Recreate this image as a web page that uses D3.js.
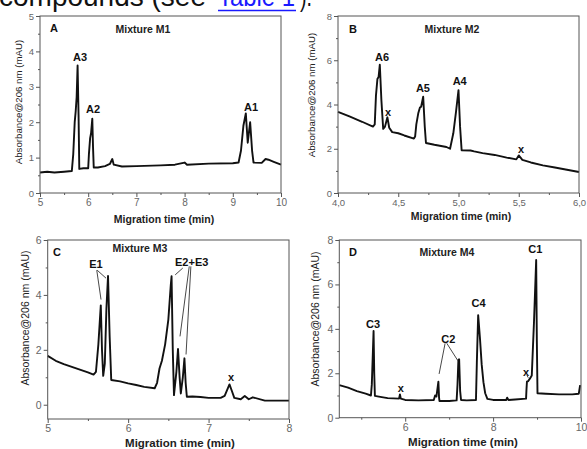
<!DOCTYPE html>
<html>
<head>
<meta charset="utf-8">
<script src="https://cdn.jsdelivr.net/npm/d3@7"></script>
<style>
  html,body{margin:0;padding:0;background:#fff;}
  svg{display:block;font-family:"Liberation Sans",Arial,sans-serif;}
</style>
</head>
<body>
<svg id="fig" width="587" height="449"></svg>
<script>
// traces: [time (min), absorbance (mAU)]
const m1Trace = [[5.0,0.58],[5.15,0.6],[5.3,0.58],[5.5,0.6],[5.66,0.62],[5.69,1.1],[5.72,2.0],[5.74,2.3],[5.76,2.7],[5.78,3.6],[5.80,2.2],[5.815,0.68],[5.9,0.7],[6.0,0.7],[6.015,1.1],[6.04,1.55],[6.06,1.7],[6.085,2.1],[6.10,1.3],[6.115,0.72],[6.2,0.72],[6.35,0.76],[6.45,0.82],[6.5,0.96],[6.53,0.8],[6.7,0.75],[7.0,0.76],[7.5,0.78],[7.8,0.8],[8.0,0.86],[8.05,0.8],[8.5,0.83],[9.0,0.84],[9.12,0.86],[9.17,1.2],[9.22,1.9],[9.27,2.25],[9.31,1.42],[9.36,2.0],[9.40,1.2],[9.43,0.86],[9.6,0.85],[9.68,0.96],[9.74,0.94],[9.85,0.88],[10.0,0.8]];
const m2Trace = [[4.0,3.67],[4.1,3.45],[4.2,3.22],[4.29,3.0],[4.305,3.1],[4.315,4.4],[4.327,5.15],[4.337,5.25],[4.347,5.8],[4.36,4.2],[4.375,2.9],[4.39,3.0],[4.41,3.42],[4.425,2.95],[4.45,2.75],[4.5,2.7],[4.55,2.6],[4.63,2.46],[4.64,2.55],[4.65,3.1],[4.666,3.6],[4.68,3.86],[4.69,3.9],[4.707,4.35],[4.72,3.0],[4.73,2.26],[4.8,2.18],[4.9,2.08],[4.93,2.0],[4.957,2.7],[4.98,3.7],[5.0,4.65],[5.013,3.0],[5.026,1.93],[5.1,1.92],[5.13,1.88],[5.2,1.8],[5.3,1.72],[5.4,1.6],[5.48,1.52],[5.5,1.7],[5.53,1.5],[5.6,1.38],[5.7,1.25],[5.8,1.15],[5.9,1.05],[6.0,0.95]];
const m3Trace = [[5.0,1.78],[5.1,1.6],[5.2,1.48],[5.3,1.38],[5.4,1.28],[5.5,1.18],[5.57,1.1],[5.6,1.2],[5.63,2.2],[5.66,3.62],[5.675,2.0],[5.69,1.05],[5.71,1.5],[5.73,3.5],[5.75,4.69],[5.77,2.5],[5.79,0.9],[5.9,0.85],[6.0,0.78],[6.1,0.72],[6.2,0.65],[6.33,0.6],[6.36,0.8],[6.39,1.32],[6.42,1.6],[6.46,2.2],[6.5,3.1],[6.53,4.35],[6.54,4.68],[6.555,2.0],[6.57,0.35],[6.6,1.2],[6.62,2.03],[6.64,1.0],[6.655,0.41],[6.68,1.0],[6.70,1.69],[6.715,0.8],[6.73,0.29],[6.8,0.3],[6.9,0.28],[7.0,0.25],[7.15,0.25],[7.2,0.32],[7.26,0.74],[7.29,0.5],[7.32,0.25],[7.4,0.2],[7.45,0.32],[7.5,0.2],[7.55,0.27],[7.7,0.15],[8.0,0.15]];
const m4Trace = [[4.5,1.47],[4.7,1.35],[4.9,1.2],[5.1,1.08],[5.22,1.0],[5.24,1.5],[5.265,3.0],[5.28,3.9],[5.295,2.0],[5.31,0.98],[5.4,0.95],[5.6,0.88],[5.86,0.86],[5.88,1.05],[5.9,0.86],[6.0,0.8],[6.3,0.78],[6.65,0.8],[6.68,1.0],[6.71,0.95],[6.755,1.62],[6.77,0.9],[6.78,0.75],[7.0,0.75],[7.17,0.78],[7.19,1.5],[7.21,2.6],[7.227,2.63],[7.25,1.2],[7.27,0.8],[7.4,0.78],[7.61,0.8],[7.63,2.5],[7.66,4.62],[7.7,3.6],[7.74,2.4],[7.78,1.6],[7.82,1.1],[7.87,0.85],[8.0,0.8],[8.3,0.8],[8.32,0.9],[8.35,0.8],[8.5,0.82],[8.75,0.86],[8.76,1.3],[8.77,1.62],[8.8,1.65],[8.84,1.77],[8.88,1.9],[8.93,4.3],[8.98,7.1],[8.995,3.5],[9.01,1.1],[9.2,1.08],[9.5,1.05],[9.8,1.05],[9.95,1.08],[9.98,1.47]];

// peak labels: text centred on [time, absorbance]
const m1Labels = [['A3',5.83,3.84],['A2',6.10,2.37],['A1',9.38,2.43]];
const m2Labels = [['A6',4.365,6.15],['x',4.415,3.66],['A5',4.705,4.75],['A4',5.01,5.06],['x',5.52,1.99]];
const m3Labels = [['E1',5.6,5.13],['E2+E3',6.79,5.2],['x',7.28,0.99]];
const m4Labels = [['C3',5.27,4.22],['C2',6.98,3.55],['C4',7.67,5.14],['C1',8.96,7.6],['x',5.9,1.35],['x',8.75,2.06]];

// leader lines [t0,v0,t1,v1]
const m3Leaders = [[5.61,4.9,5.663,3.83],[5.615,4.9,5.725,4.61],[6.68,4.98,6.585,4.73],[6.76,5.04,6.645,2.49],[6.78,5.04,6.72,1.83]];
const m4Leaders = [[6.908,3.35,6.771,1.97],[6.946,3.35,7.197,2.57],[8.77,1.9,8.8,1.8]];

const svg = d3.select('#fig');

// header text cut off at the top
const head = svg.append('g').style('font-size','28px');
head.append('text').attr('x',-1).attr('y',6).attr('fill','#111').text('compounds (see');
head.append('text').attr('x',218).attr('y',6).attr('fill','#1a1aff')
  .attr('textLength',77).attr('lengthAdjust','spacingAndGlyphs').text('Table 1');
head.append('line').attr('x1',218).attr('x2',296).attr('y1',10.5).attr('y2',10.5)
  .attr('stroke','#1a1aff').attr('stroke-width',1.5);
head.append('text').attr('x',300).attr('y',6).attr('fill','#111')
  .attr('textLength',12).attr('lengthAdjust','spacingAndGlyphs').text(').');

function panel(o){
  const x = d3.scaleLinear().domain(o.xd).range([o.l, o.r]);
  const y = d3.scaleLinear().domain(o.yd).range([o.b, o.t]);
  const g = svg.append('g');
  const fmt = o.fmt || (d=>d);

  // minor ticks
  g.append('g').attr('transform',`translate(0,${o.b})`)
    .call(d3.axisBottom(x).tickValues(o.xMin).tickSize(2).tickFormat(''))
    .call(a=>a.select('.domain').remove());
  g.append('g').attr('transform',`translate(${o.l},0)`)
    .call(d3.axisLeft(y).tickValues(o.yMin).tickSize(2).tickFormat(''))
    .call(a=>a.select('.domain').remove());

  // major ticks
  const ax = g.append('g').attr('transform',`translate(0,${o.b})`)
    .call(d3.axisBottom(x).tickValues(o.xMaj).tickSize(4).tickPadding(2).tickFormat(fmt));
  const ay = g.append('g').attr('transform',`translate(${o.l},0)`)
    .call(d3.axisLeft(y).tickValues(o.yMaj).tickSize(4).tickPadding(2).tickFormat(d=>d));
  [ax,ay].forEach(a=>{
    a.select('.domain').remove();
    a.selectAll('text').attr('fill','#666').style('font-family','"Liberation Sans",Arial,sans-serif');
  });
  ax.selectAll('text').style('font-size',o.tx+'px');
  ay.selectAll('text').style('font-size',o.ty+'px');
  g.selectAll('.tick line').attr('stroke','#555');

  // trace
  const line = d3.line().x(d=>x(d[0])).y(d=>y(d[1]));
  g.append('path').datum(o.trace)
    .attr('d',line).attr('fill','none')
    .attr('stroke','#111').attr('stroke-width',1.9)
    .attr('stroke-linejoin','round');

  // frame
  g.append('rect').attr('x',o.l).attr('y',o.t)
    .attr('width',o.r-o.l).attr('height',o.b-o.t)
    .attr('fill','none').attr('stroke','#555').attr('stroke-width',1);

  // leaders
  (o.leaders||[]).forEach(d=>{
    g.append('line').attr('x1',x(d[0])).attr('y1',y(d[1]))
      .attr('x2',x(d[2])).attr('y2',y(d[3]))
      .attr('stroke','#333').attr('stroke-width',0.9);
  });

  // peak labels
  g.selectAll('text.pk').data(o.labels).enter().append('text')
    .attr('class','pk')
    .attr('x',d=>x(d[1])).attr('y',d=>y(d[2]))
    .attr('dy','0.35em').attr('text-anchor','middle')
    .attr('font-weight','bold').attr('font-size',o.lab+'px').attr('fill','#111')
    .text(d=>d[0]);

  // panel letter and title
  g.append('text').attr('x',o.letter[0]).attr('y',o.letter[1]).attr('dy','0.35em')
    .attr('text-anchor','middle').attr('font-weight','bold').attr('font-size','11px')
    .attr('fill','#111').text(o.letter[2]);
  g.append('text').attr('x',o.title[0]).attr('y',o.title[1]).attr('dy','0.35em')
    .attr('text-anchor','middle').attr('font-weight','bold').attr('font-size','10.5px')
    .attr('fill','#222').text(o.title[2]);

  // axis titles
  g.append('text').attr('x',o.xt[0]).attr('y',o.xt[1]).attr('dy','0.35em')
    .attr('text-anchor','middle').attr('font-weight','bold').attr('font-size',o.xt[2]+'px')
    .attr('fill','#222').text('Migration time (min)');
  g.append('text').attr('transform',`translate(${o.yt[0]},${o.yt[1]}) rotate(-90)`)
    .attr('dy','0.35em').attr('text-anchor','middle').attr('font-size',o.yt[2]+'px')
    .attr('fill','#222').text('Absorbance@206 nm (mAU)');
}

const comma = d=>d3.format('.1f')(d).replace('.',',');

panel({l:40,r:281,t:16,b:193,xd:[5,10],yd:[0,5],
  xMaj:[5,6,7,8,9,10],xMin:[5.5,6.5,7.5,8.5,9.5],yMaj:[0,1,2,3,4,5],yMin:[0.5,1.5,2.5,3.5,4.5],
  trace:m1Trace,labels:m1Labels,lab:11,tx:10,ty:9.5,
  letter:[54,28,'A'],title:[143,29,'Mixture M1'],xt:[164,219,10.5],yt:[19,102,9.7]});

panel({l:338,r:579,t:16,b:193,xd:[4,6],yd:[0,8],
  xMaj:[4,4.5,5,5.5,6],xMin:[4.25,4.75,5.25,5.75],yMaj:[0,2,4,6,8],yMin:[1,3,5,7],fmt:comma,
  trace:m2Trace,labels:m2Labels,lab:11,tx:9.5,ty:9.5,
  letter:[353,29,'B'],title:[452,29,'Mixture M2'],xt:[461,216,10.5],yt:[312,95,9.7]});

panel({l:47.7,r:289,t:240,b:419,xd:[5,8],yd:[-0.52,6],
  xMaj:[5,6,7,8],xMin:[5.5,6.5,7.5],yMaj:[0,2,4,6],yMin:[1,3,5],
  trace:m3Trace,labels:m3Labels,lab:11,tx:10.5,ty:10.5,leaders:m3Leaders,
  letter:[57,252,'C'],title:[140,248,'Mixture M3'],xt:[180,443,11.5],yt:[25,318,10.5]});

panel({l:339.3,r:581,t:240,b:417.7,xd:[4.5,10],yd:[0,8],
  xMaj:[6,8,10],xMin:[5,7,9],yMaj:[0,2,4,6,8],yMin:[1,3,5,7],
  trace:m4Trace,labels:m4Labels,lab:11,tx:10.5,ty:10.5,leaders:m4Leaders,
  letter:[353,252,'D'],title:[447,252,'Mixture M4'],xt:[463,442,11.5],yt:[315,319,10.5]});
</script>
</body>
</html>
